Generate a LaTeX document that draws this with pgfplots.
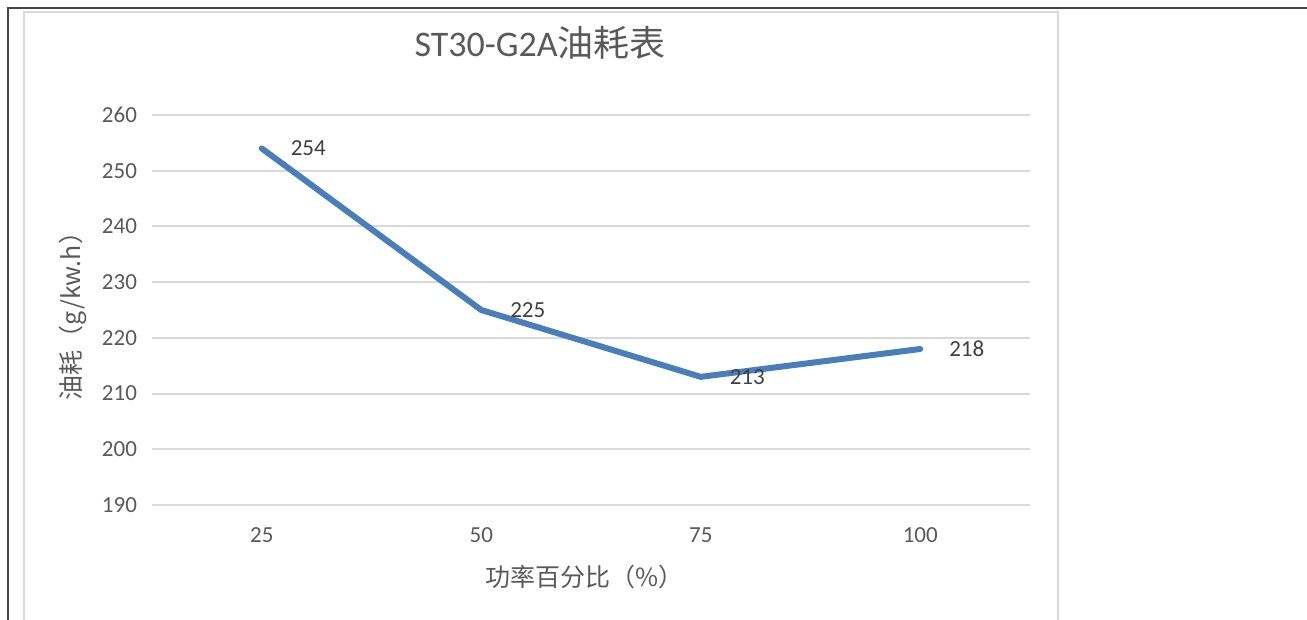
\documentclass[border=0pt]{standalone}
\usepackage{fontspec}
\setmainfont{Carlito}
\newfontfamily\cjk{Noto Sans CJK SC}
\usepackage{pgfplots}
\pgfplotsset{compat=1.18}
\definecolor{linec}{RGB}{74,126,187}
\definecolor{gridc}{RGB}{217,217,217}
\definecolor{txt}{RGB}{89,89,89}
\definecolor{lbl}{RGB}{64,64,64}
\definecolor{frame}{RGB}{70,70,70}
\begin{document}
\begin{tikzpicture}
\useasboundingbox (0,0) rectangle (653.5pt,310pt);
\draw[frame, line width=1pt] (4pt,-2pt) -- (4pt,306pt) -- (656pt,306pt);
\draw[gridc, line width=1pt] (12pt,-2pt) -- (12pt,304pt) -- (529pt,304pt) -- (529pt,-2pt);
\begin{axis}[
  at={(76pt,57.5pt)}, anchor=south west,
  scale only axis, width=439pt, height=195pt,
  xmin=-0.5, xmax=3.5, ymin=190, ymax=260,
  ytick={190,200,...,260},
  xtick={0,1,2,3}, xticklabels={25,50,75,100},
  axis line style={draw=none},
  ymajorgrids, grid style={gridc, line width=1pt},
  major tick length=0pt,
  /pgf/number format/assume math mode=true,
  tick label style={font=\fontsize{11.5}{13}\selectfont, text=txt},
  yticklabel style={xshift=-4pt},
  xticklabel style={yshift=-8pt},
  title={ST30-G2A{\cjk 油耗表}},
  title style={at={(axis description cs:0.442,1.154)}, anchor=center, font=\fontsize{18}{20}\selectfont, text=txt},
  xlabel={\cjk 功率百分比（\%）},
  xlabel style={at={(axis description cs:0.493,-0.185)}, anchor=center, font=\fontsize{12.5}{14}\selectfont, text=txt},
  ylabel={\cjk 油耗（g/kw.h）},
  ylabel style={at={(axis description cs:-0.09,0.5)}, anchor=center, rotate=0, font=\fontsize{12.5}{14}\selectfont, text=txt},
  clip=false,
  nodes near coords,
  point meta=y,
  nodes near coords style={anchor=west, inner sep=0pt, xshift=13pt, font=\fontsize{11.5}{13}\selectfont, text=lbl},
]
\addplot[linec, line width=3pt, line cap=round, line join=round, mark=none] coordinates {(0,254) (1,225) (2,213) (3,218)};
\end{axis}
\end{tikzpicture}
\end{document}
